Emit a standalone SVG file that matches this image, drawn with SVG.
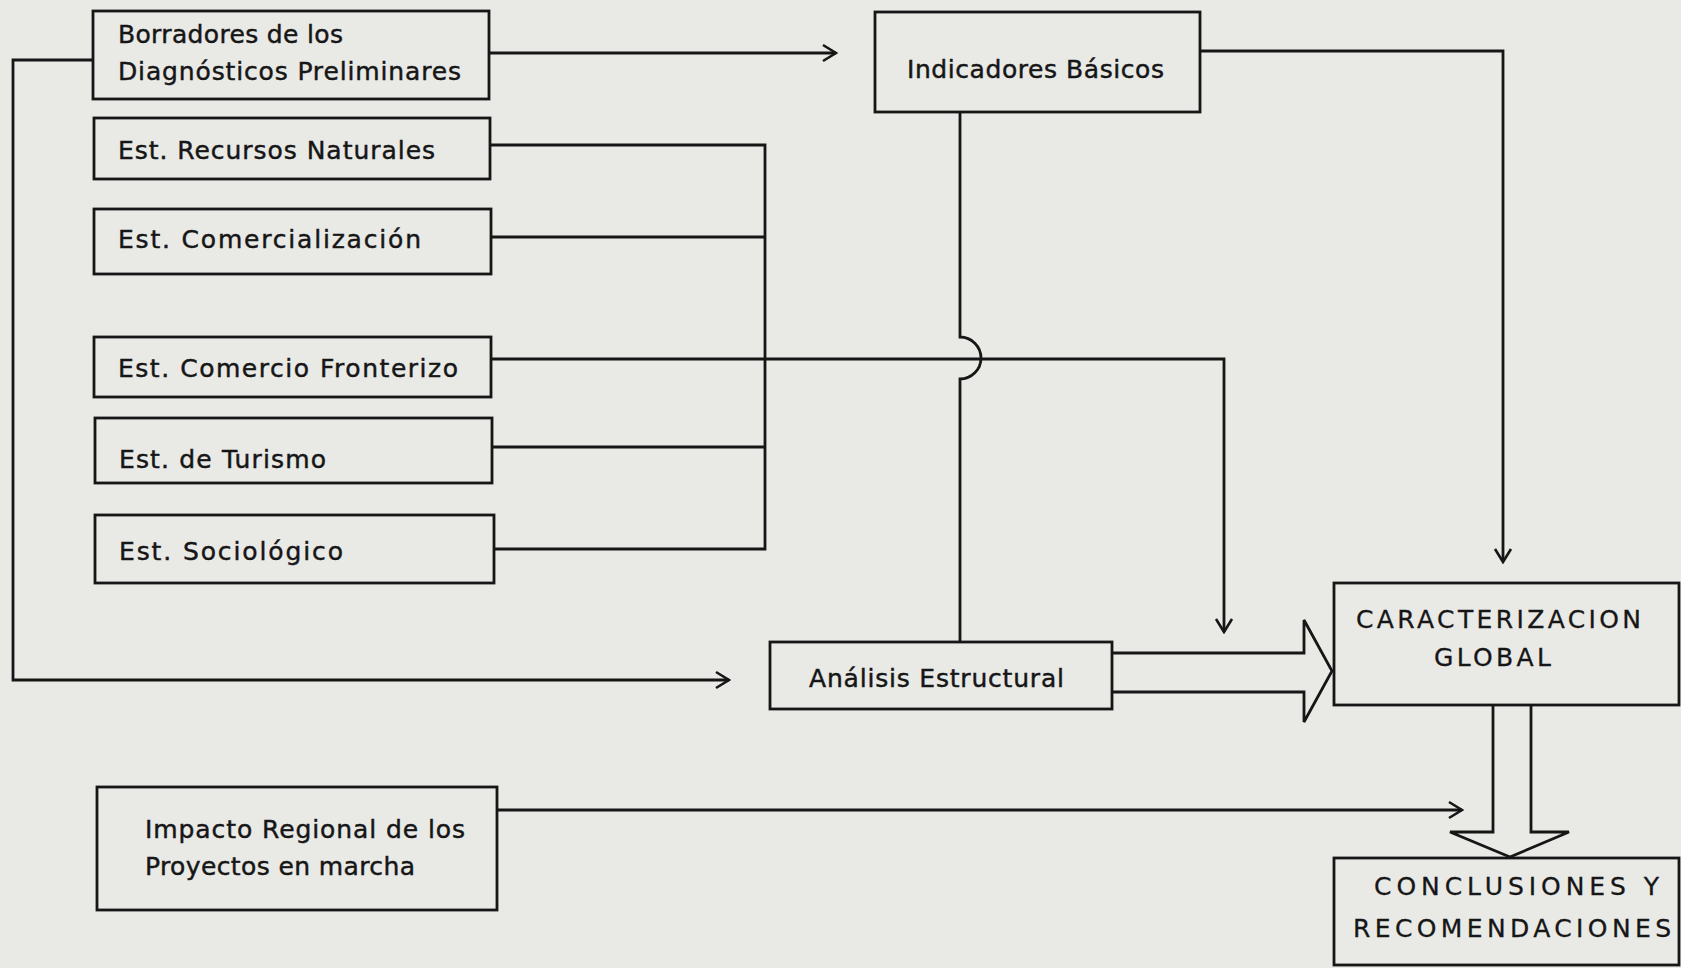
<svg xmlns="http://www.w3.org/2000/svg" width="1681" height="968" viewBox="0 0 1681 968">
<style>
.box{fill:none;stroke:#161616;stroke-width:2.8}
.ln{fill:none;stroke:#161616;stroke-width:2.8;stroke-linejoin:miter}
.t{font-family:"DejaVu Sans","Liberation Sans",sans-serif;font-size:25px;fill:#161616;stroke:#161616;stroke-width:0.45}
.c{font-family:"DejaVu Sans","Liberation Sans",sans-serif;font-size:25px;fill:#161616;stroke:#161616;stroke-width:0.3}
</style>
<defs>
<marker id="arr" markerUnits="userSpaceOnUse" viewBox="0 0 16 20" refX="14" refY="10" markerWidth="16" markerHeight="20" orient="auto">
<path d="M1,2 L14,10 L1,18" fill="none" stroke="#161616" stroke-width="2.6"/>
</marker>
</defs>
<rect width="1681" height="968" fill="#e9e9e6"/>
<g id="connectors">
<path class="ln" d="M489,53 H836" marker-end="url(#arr)"/>
<path class="ln" d="M93,60 H13 V680 H729" marker-end="url(#arr)"/>
<path class="ln" d="M490,145 H765 V549 H494"/>
<path class="ln" d="M491,237 H765"/>
<path class="ln" d="M492,447 H765"/>
<path class="ln" d="M491,359 H1224 V632" marker-end="url(#arr)"/>
<path class="ln" d="M960,112 V337 A21,21 0 0 1 960,379 V642"/>
<path class="ln" d="M1200,51 H1503 V562" marker-end="url(#arr)"/>
<path class="ln" d="M1112,653 H1304 V620 L1332,671 L1304,722 V692 H1112"/>
<path class="ln" d="M1493,705 V832 H1450 L1510,857 L1569,832 H1531 V705"/>
<path class="ln" d="M497,810 H1462" marker-end="url(#arr)"/>
</g>
<g id="borradores">
<rect class="box" x="93" y="11" width="396" height="88"/>
<text class="t" x="118" y="43" textLength="225">Borradores de los</text>
<text class="t" x="118" y="80" textLength="343">Diagnósticos Preliminares</text>
</g>
<g id="recursos">
<rect class="box" x="94" y="118" width="396" height="61"/>
<text class="t" x="118" y="159" textLength="317">Est. Recursos Naturales</text>
</g>
<g id="comercializacion">
<rect class="box" x="94" y="209" width="397" height="65"/>
<text class="t" x="118" y="248" textLength="303">Est. Comercialización</text>
</g>
<g id="fronterizo">
<rect class="box" x="94" y="337" width="397" height="60"/>
<text class="t" x="118" y="377" textLength="340">Est. Comercio Fronterizo</text>
</g>
<g id="turismo">
<rect class="box" x="95" y="418" width="397" height="65"/>
<text class="t" x="119" y="468" textLength="207">Est. de Turismo</text>
</g>
<g id="sociologico">
<rect class="box" x="95" y="515" width="399" height="68"/>
<text class="t" x="119" y="560" textLength="224">Est. Sociológico</text>
</g>
<g id="indicadores">
<rect class="box" x="875" y="12" width="325" height="100"/>
<text class="t" x="907" y="78" textLength="257">Indicadores Básicos</text>
</g>
<g id="analisis">
<rect class="box" x="770" y="642" width="342" height="67"/>
<text class="t" x="809" y="687" textLength="255">Análisis Estructural</text>
</g>
<g id="caracterizacion">
<rect class="box" x="1334" y="583" width="345" height="122"/>
<text class="c" x="1356" y="628" textLength="285">CARACTERIZACION</text>
<text class="c" x="1434" y="666" textLength="117">GLOBAL</text>
</g>
<g id="impacto">
<rect class="box" x="97" y="787" width="400" height="123"/>
<text class="t" x="145" y="838" textLength="320">Impacto Regional de los</text>
<text class="t" x="145" y="875" textLength="270">Proyectos en marcha</text>
</g>
<g id="conclusiones">
<rect class="box" x="1334" y="858" width="345" height="107"/>
<text class="c" x="1374" y="895" textLength="285">CONCLUSIONES Y</text>
<text class="c" x="1353" y="937" textLength="318">RECOMENDACIONES</text>
</g>
</svg>
